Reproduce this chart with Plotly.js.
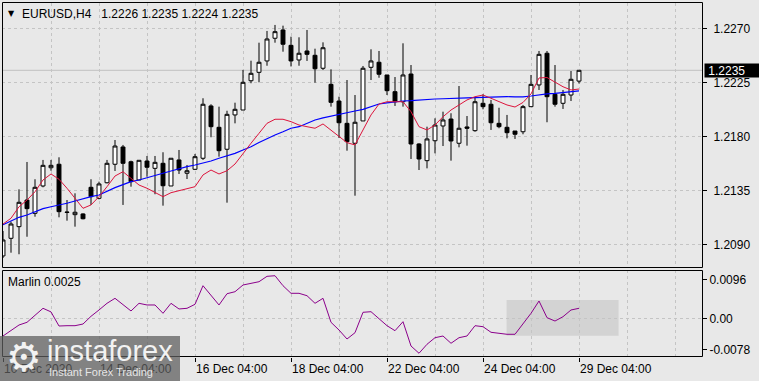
<!DOCTYPE html>
<html><head><meta charset="utf-8">
<script src="https://cdn.plot.ly/plotly-3.0.1.min.js"></script>
<style>html,body{margin:0;padding:0;background:#e8e8e8;}#chart{width:759px;height:381px;}</style>
</head><body><div id="chart"></div>
<script>
// EURUSD H4 bars, index 0 = 10 Dec 2020 04:00 ... index 72 = 29 Dec 2020 04:00
const openP = [1.20803,1.2095,1.21047,1.21269,1.21158,1.21386,1.21538,1.21567,1.21169,1.21147,
 1.21153,1.21375,1.21283,1.21413,1.21567,1.21711,1.21588,1.21436,1.21594,1.21533,
 1.21575,1.21386,1.21603,1.21492,1.21525,1.21617,1.22053,1.21875,1.21692,1.21978,
 1.22019,1.22263,1.22333,1.22428,1.22617,1.22686,1.22558,1.22436,1.22511,1.22475,
 1.22367,1.22233,1.22094,1.21908,1.21742,1.21928,1.22375,1.22417,1.22311,1.22172,
 1.22088,1.22319,1.21736,1.21597,1.21763,1.21886,1.21944,1.21742,1.21878,1.21847,
 1.22075,1.22067,1.21908,1.21875,1.21844,1.21838,1.22047,1.22228,1.22492,1.2215,
 1.22075,1.22144,1.2226];
const highP = [1.21011,1.21088,1.21358,1.21586,1.21442,1.21603,1.21603,1.21625,1.21269,1.21325,
 1.21158,1.21442,1.21422,1.21603,1.21769,1.21728,1.21597,1.216,1.21636,1.21636,
 1.21667,1.21617,1.21686,1.21561,1.21653,1.22117,1.22067,1.22047,1.22013,1.2208,
 1.22353,1.2243,1.2258,1.22678,1.22728,1.22722,1.2263,1.22625,1.22686,1.2253,
 1.22583,1.22358,1.2213,1.22269,1.22144,1.22386,1.22525,1.22511,1.22311,1.22294,
 1.22575,1.22394,1.21742,1.2188,1.2195,1.22005,1.21992,1.22219,1.21969,1.22122,
 1.2215,1.22103,1.22038,1.21978,1.21844,1.22061,1.22311,1.22511,1.22511,1.22394,
 1.22186,1.22344,1.2235];
const lowP = [1.20786,1.2083,1.20817,1.20963,1.2113,1.21375,1.21513,1.21125,1.21097,1.21047,
 1.21108,1.21228,1.21275,1.21408,1.21511,1.21228,1.2138,1.21436,1.21463,1.21317,
 1.21222,1.21386,1.21486,1.21444,1.21519,1.21603,1.21792,1.2163,1.21247,1.21908,
 1.22019,1.22242,1.2225,1.22388,1.2258,1.22505,1.22382,1.22388,1.22428,1.22247,
 1.22353,1.22047,1.21786,1.2168,1.21305,1.21928,1.22269,1.22288,1.22144,1.22053,
 1.22047,1.21611,1.21519,1.21533,1.21658,1.21719,1.21597,1.21708,1.21722,1.21838,
 1.22025,1.21853,1.21867,1.21783,1.21778,1.21817,1.22047,1.22186,1.21917,1.22047,
 1.22028,1.22094,1.2224];
const closeP = [1.20936,1.21069,1.2125,1.21197,1.21375,1.21558,1.21558,1.21172,1.21166,1.21167,
 1.21113,1.21297,1.21403,1.21575,1.21719,1.21575,1.21422,1.216,1.21542,1.21583,
 1.21388,1.21617,1.21519,1.21513,1.2163,1.22067,1.2188,1.2168,1.21983,1.22025,
 1.2225,1.22325,1.22417,1.22611,1.22672,1.22567,1.22428,1.22492,1.22483,1.22363,
 1.22538,1.22083,1.21913,1.21755,1.21917,1.22367,1.22428,1.22317,1.2218,1.22088,
 1.22311,1.21736,1.21611,1.21778,1.21894,1.21936,1.21761,1.21867,1.21867,1.22088,
 1.22047,1.21913,1.2188,1.2183,1.21817,1.22047,1.22233,1.22483,1.2213,1.22067,
 1.2215,1.22275,1.2235];
// fast moving average (red)
const maFast = [1.21069,1.21117,1.21213,1.21269,1.21338,1.21436,1.21486,1.21442,1.21367,1.21283,
 1.212,1.21228,1.21297,1.2138,1.21469,1.21505,1.2145,1.21394,1.21367,1.2133,
 1.21297,1.2133,1.21347,1.21358,1.2138,1.21478,1.21519,1.21486,1.21513,1.21569,
 1.21658,1.21742,1.21825,1.21908,1.21942,1.21942,1.21922,1.21894,1.2188,1.21867,
 1.21903,1.21853,1.21797,1.21747,1.21728,1.21853,1.21978,1.22069,1.22088,1.22088,
 1.22088,1.22005,1.2188,1.21853,1.21894,1.21963,1.22019,1.22061,1.22103,1.2213,
 1.22144,1.22117,1.22086,1.22061,1.22044,1.22082,1.22153,1.22286,1.2229,1.22253,
 1.22213,1.22186,1.22194];
// slow moving average (blue)
const maSlow = [1.21063,1.21097,1.21125,1.21144,1.21172,1.21197,1.21213,1.21225,1.21242,1.21261,
 1.2128,1.21297,1.21311,1.21342,1.21372,1.21397,1.21422,1.21436,1.21453,1.21469,
 1.21492,1.21511,1.2153,1.21547,1.21561,1.21575,1.21594,1.21617,1.21636,1.21658,
 1.21686,1.21713,1.21748,1.21783,1.21811,1.21838,1.21867,1.2188,1.21908,1.21936,
 1.21953,1.21969,1.21983,1.21997,1.22011,1.22025,1.22047,1.22069,1.22078,1.22088,
 1.22094,1.22097,1.22103,1.22108,1.22111,1.22113,1.22117,1.22119,1.22121,1.22122,
 1.22125,1.22128,1.22129,1.2213,1.22129,1.22129,1.22136,1.22146,1.22153,1.22158,
 1.22163,1.22169,1.22178];
// Marlin oscillator
const marlin = [-0.00443,-0.0031,-0.00168,-0.001,0.00083,0.0025,0.0016,-0.00193,-0.00185,-0.00185,
 -0.00143,0.0005,0.00208,0.00375,0.005,0.00333,0.00183,0.00375,0.00333,0.00333,
 0.00125,0.00375,0.00233,0.0025,0.0035,0.00815,0.00583,0.00333,0.00615,0.00665,
 0.00833,0.00865,0.00915,0.0105,0.01065,0.00815,0.00625,0.00625,0.00565,0.00375,
 0.005,-0.001,-0.00293,-0.00518,-0.0036,0.0015,0.00165,-0.0001,-0.00185,-0.0031,
 -0.00085,-0.00693,-0.00875,-0.0065,-0.00485,-0.00443,-0.00625,-0.00485,-0.00443,-0.00185,
 -0.0021,-0.0035,-0.00375,-0.004,-0.004,-0.00125,0.00125,0.00433,0.00015,-0.00068,
 0.0004,0.00208,0.0025];
const dateTickIdx = [0,12,24,36,48,60,72];
const dateTickText = ['10 Dec 2020','14 Dec 04:00','16 Dec 04:00','18 Dec 04:00','22 Dec 04:00','24 Dec 04:00','29 Dec 04:00'];
const gridIdx = [6,18,30,42,54,66,78,84];
const priceTicks = [1.2270,1.2225,1.2180,1.2135,1.2090];
const priceTickText = ['1.2270','1.2225','1.2180','1.2135','1.2090'];
const oscTicks = [0.0096,0,-0.0078];
const oscTickText = ['0.0096','0.00','-0.0078'];
const lastPrice = 1.2235;
const header = 'EURUSD,H4\u00a0\u00a0 1.2226 1.2235 1.2224 1.2235';
const oscLabel = 'Marlin 0.0025';
const boxX = [62.95, 76.95];
const boxY = [0.00458, -0.00435];

const idx = openP.map((_, i) => i);
const W = 759, H = 381;
const px = x => x / W, py = y => 1 - y / H;
const FONT = 'Liberation Sans, Arial, sans-serif';
const GRID = '#c4c4c4';

const traces = [
  {type:'candlestick', x: idx, open: openP, high: highP, low: lowP, close: closeP,
   xaxis:'x', yaxis:'y', hoverinfo:'skip', whiskerwidth:0,
   increasing:{line:{color:'#000', width:1}, fillcolor:'#ffffff'},
   decreasing:{line:{color:'#000', width:1}, fillcolor:'#000000'}},
  {type:'scatter', mode:'lines', x: idx, y: maSlow, xaxis:'x', yaxis:'y',
   line:{color:'#0000ff', width:1.2}, hoverinfo:'skip'},
  {type:'scatter', mode:'lines', x: idx, y: maFast, xaxis:'x', yaxis:'y',
   line:{color:'#dc143c', width:1}, hoverinfo:'skip'},
  {type:'scatter', mode:'lines', x: idx, y: marlin, xaxis:'x', yaxis:'y2',
   line:{color:'#8b008b', width:1}, hoverinfo:'skip'}
];

const annotations = [];
annotations.push({xref:'paper', yref:'paper', x:px(11), y:py(13), text:'▼', showarrow:false,
  font:{family:'DejaVu Sans', size:8, color:'#000'}, xanchor:'center', yanchor:'middle'});
annotations.push({xref:'paper', yref:'paper', x:px(20), y:py(13.5), text:header, showarrow:false,
  font:{family:FONT, size:12, color:'#000'}, xanchor:'left', yanchor:'middle'});
annotations.push({xref:'paper', yref:'paper', x:px(6), y:py(281.7), text:oscLabel, showarrow:false,
  font:{family:FONT, size:12, color:'#000'}, xanchor:'left', yanchor:'middle'});
dateTickIdx.forEach((v, k) => {
  annotations.push({xref:'x', yref:'paper', x:v, y:py(368.5), text:dateTickText[k], showarrow:false,
    font:{family:FONT, size:12, color: k < 2 ? '#474747' : '#000'}, xanchor:'left', yanchor:'middle', xshift:-1});
});
annotations.push({xref:'paper', yref:'y', x:px(704), y:lastPrice, text:'\u00a0' + lastPrice.toFixed(4), showarrow:false,
  font:{family:FONT, size:12, color:'#fff'}, bgcolor:'#000', xanchor:'left', yanchor:'middle',
  width:54, height:13, align:'left', borderpad:0});
// watermark
annotations.push({xref:'paper', yref:'paper', x:px(24), y:py(357), text:'⚙', showarrow:false,
  font:{family:'DejaVu Sans', size:40, color:'#f2f2f2'}, xanchor:'center', yanchor:'middle'});
annotations.push({xref:'paper', yref:'paper', x:px(45), y:py(351), text:'instaforex', showarrow:false,
  font:{family:FONT, size:29, color:'#f2f2f2'}, xanchor:'left', yanchor:'middle'});
annotations.push({xref:'paper', yref:'paper', x:px(47), y:py(372), text:'Instant Forex Trading', showarrow:false,
  font:{family:FONT, size:11, color:'#e6e6e6'}, xanchor:'left', yanchor:'middle'});

const shapes = [
  {type:'rect', xref:'x', yref:'y2', x0:boxX[0], x1:boxX[1], y0:boxY[1], y1:boxY[0],
   fillcolor:'#d3d3d3', line:{width:0}, layer:'below'},
  {type:'line', xref:'paper', yref:'y', x0:px(2), x1:px(702), y0:lastPrice, y1:lastPrice,
   line:{color:'#c0c0c0', width:1}, layer:'below'},
  {type:'rect', xref:'paper', yref:'paper', x0:px(2.5), x1:px(702.5), y0:py(267.5), y1:py(2.5),
   line:{color:'#000', width:1}, fillcolor:'rgba(0,0,0,0)'},
  {type:'rect', xref:'paper', yref:'paper', x0:px(2.5), x1:px(702.5), y0:py(356.5), y1:py(270.5),
   line:{color:'#000', width:1}, fillcolor:'rgba(0,0,0,0)'},
  {type:'rect', xref:'paper', yref:'paper', x0:0, x1:px(180), y0:0, y1:py(336),
   fillcolor:'rgba(95,95,95,0.74)', line:{width:0}, layer:'above'}
];

const layout = {
  width: W, height: H, margin:{l:0, r:0, t:0, b:0},
  paper_bgcolor:'#e8e8e8', plot_bgcolor:'#e8e8e8', showlegend:false,
  font:{family:FONT, size:12, color:'#000'},
  xaxis:{domain:[px(2), px(702)], range:[-0.125, 87.375], anchor:'y2', rangeslider:{visible:false},
    tickmode:'array', tickvals: dateTickIdx, showticklabels:false, ticks:'outside', ticklen:4,
    tickcolor:'#000', showgrid:true, gridcolor:GRID, griddash:'3px,3px', gridwidth:1, zeroline:false,
    showline:false, fixedrange:true,
    minor:{tickmode:'array', tickvals: gridIdx, showgrid:true, gridcolor:GRID, griddash:'3px,3px', ticks:''}},
  yaxis:{domain:[py(267.7), py(3)], range:[1.20705, 1.229108], side:'right', anchor:'x',
    tickmode:'array', tickvals: priceTicks, ticktext: priceTickText, ticks:'outside', ticklen:4,
    tickcolor:'#000', showgrid:true, gridcolor:GRID, griddash:'3px,3px', zeroline:false, showline:false,
    tickfont:{family:FONT, size:12, color:'#000'}, ticklabelstandoff:4},
  yaxis2:{domain:[py(357), py(270)], range:[-0.00968, 0.01208], side:'right', anchor:'x',
    tickmode:'array', tickvals: oscTicks, ticktext: oscTickText, ticks:'outside', ticklen:4,
    tickcolor:'#000', showgrid:false, zeroline:false, showline:false,
    tickfont:{family:FONT, size:12, color:'#000'},
    minor:{tickmode:'array', tickvals:[0], showgrid:true, gridcolor:GRID, griddash:'3px,3px', ticks:''}},
  annotations, shapes
};

Plotly.newPlot('chart', traces, layout, {staticPlot:true, displayModeBar:false});
</script></body></html>
